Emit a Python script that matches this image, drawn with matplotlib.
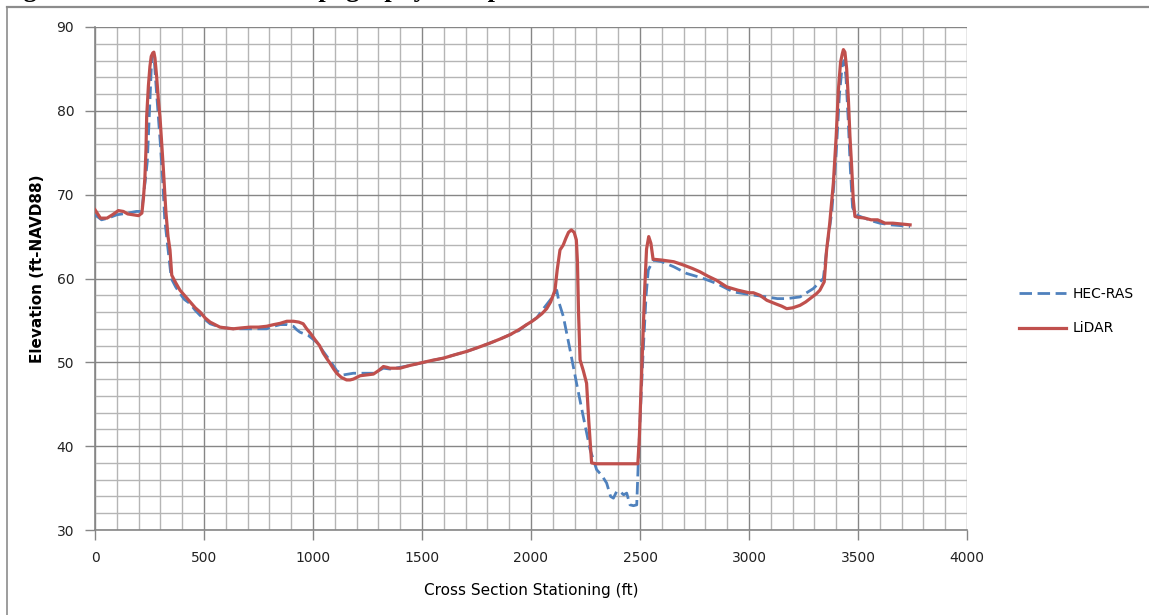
import matplotlib

matplotlib.use("Agg")

import matplotlib.pyplot as plt
from matplotlib.lines import Line2D
from matplotlib.ticker import MultipleLocator


TITLE = "Figure 4-1: Cross Section Topography Comparison"

X_LABEL = "Cross Section Stationing (ft)"
Y_LABEL = "Elevation (ft-NAVD88)"

# LiDAR ground profile (station ft, elevation ft)
LIDAR_STATION = [
    0, 25, 55, 80, 107, 130, 150, 175, 200, 215,
    222, 229, 234, 237, 245, 252, 258, 265, 270, 275,
    283, 290, 298, 305, 313, 325, 335, 344, 352, 370,
    390, 410, 436, 460, 482, 505, 528, 550, 573, 600,
    634, 670, 711, 750, 787, 820, 849, 880, 910, 935,
    955, 971, 990, 1009, 1030, 1047, 1062, 1078, 1095, 1109,
    1130, 1154, 1170, 1185, 1200, 1216, 1245, 1277, 1300, 1323,
    1340, 1353, 1375, 1399, 1440, 1491, 1540, 1598, 1650, 1705,
    1760, 1812, 1860, 1904, 1945, 1980, 2005, 2026, 2050, 2072,
    2090, 2110, 2120, 2133, 2148, 2160, 2172, 2185, 2198, 2208,
    2213, 2218, 2225, 2240, 2255, 2265, 2278, 2300, 2350, 2400,
    2450, 2490, 2497, 2505, 2515, 2522, 2530, 2540, 2550, 2560,
    2600, 2655, 2700, 2740, 2775, 2810, 2850, 2898, 2950, 3000,
    3020, 3050, 3082, 3120, 3150, 3173, 3200, 3234, 3260, 3290,
    3310, 3325, 3345, 3356, 3370, 3387, 3400, 3410, 3420, 3428,
    3433, 3440, 3448, 3456, 3463, 3471, 3478, 3486, 3500, 3532,
    3560, 3590, 3624, 3660, 3700, 3739,
]
LIDAR_ELEV = [
    68.2, 67.2, 67.2, 67.6, 68.1, 68.0, 67.7, 67.6, 67.5, 67.8,
    69.5, 72.1, 75.5, 79.3, 83.0, 85.3, 86.5, 86.9, 87.0, 86.3,
    84.0, 81.5, 79.3, 76.5, 73.3, 68.0, 65.0, 63.4, 60.4, 59.5,
    58.6, 58.0, 57.2, 56.5, 56.0, 55.3, 54.8, 54.5, 54.2, 54.1,
    54.0, 54.1, 54.2, 54.2, 54.3, 54.5, 54.65, 54.9, 54.9, 54.8,
    54.6, 54.0, 53.4, 52.7, 52.0, 51.1, 50.5, 49.9, 49.2, 48.7,
    48.2, 47.9, 47.9, 48.0, 48.2, 48.4, 48.5, 48.6, 49.0, 49.5,
    49.4, 49.3, 49.3, 49.3, 49.6, 49.9, 50.2, 50.5, 50.9, 51.3,
    51.8, 52.3, 52.8, 53.3, 53.9, 54.5, 54.9, 55.3, 55.8, 56.4,
    57.2, 58.6, 61.0, 63.4, 64.0, 64.8, 65.5, 65.8, 65.5, 64.6,
    62.0, 56.0, 50.3, 49.0, 47.5, 43.0, 38.0, 37.9, 37.9, 37.9,
    37.9, 37.9, 41.0, 47.0, 54.0, 59.0, 63.5, 65.0, 64.2, 62.3,
    62.2, 62.0, 61.6, 61.2, 60.8, 60.3, 59.8, 59.0, 58.6, 58.3,
    58.3, 58.0, 57.4, 57.0, 56.7, 56.4, 56.5, 56.8, 57.2, 57.8,
    58.2, 58.6, 59.6, 63.4, 66.5, 71.4, 77.0, 82.5, 85.8, 86.8,
    87.3, 87.0, 85.0, 81.3, 77.0, 73.3, 69.5, 67.4, 67.3, 67.2,
    67.0, 67.0, 66.6, 66.6, 66.5, 66.4,
]

# HEC-RAS cross section geometry
HECRAS_STATION = [
    0, 30, 60, 100, 150, 190, 215, 222, 230, 240,
    250, 258, 265, 272, 280, 290, 300, 310, 320, 335,
    350, 370, 390, 410, 436, 460, 482, 505, 528, 573,
    634, 711, 787, 820, 850, 880, 910, 925, 940, 979,
    1017, 1047, 1078, 1109, 1140, 1185, 1216, 1277, 1323, 1353,
    1399, 1440, 1491, 1540, 1598, 1650, 1705, 1760, 1812, 1860,
    1904, 1945, 1980, 2026, 2060, 2090, 2118, 2130, 2148, 2179,
    2209, 2240, 2271, 2301, 2325, 2347, 2365, 2378, 2393, 2408,
    2425, 2439, 2454, 2470, 2485, 2492, 2505, 2515, 2528, 2538,
    2561, 2600, 2655, 2714, 2780, 2852, 2928, 3000, 3082, 3130,
    3173, 3234, 3295, 3341, 3356, 3380, 3400, 3415, 3428, 3436,
    3445, 3455, 3465, 3475, 3485, 3500, 3530, 3560, 3600, 3650,
    3700, 3739,
]
HECRAS_ELEV = [
    67.6, 67.0, 67.2, 67.6, 67.8, 68.0, 68.0, 70.0, 71.5, 74.0,
    80.0, 85.0, 86.8, 86.0, 83.0, 79.5, 76.0, 72.0, 67.0, 63.5,
    60.0, 59.0, 58.2, 57.5, 57.0, 56.2, 55.6, 55.1, 54.6, 54.2,
    54.0, 54.0, 54.0, 54.3, 54.5, 54.5, 54.3, 53.9, 53.6, 53.2,
    52.4, 51.3, 50.2, 49.0, 48.5, 48.7, 48.7, 48.7, 49.3, 49.2,
    49.4, 49.6, 49.9, 50.2, 50.5, 50.9, 51.3, 51.8, 52.3, 52.8,
    53.3, 53.8, 54.5, 55.3, 56.5, 57.5, 58.6, 57.0, 55.5, 51.5,
    47.5, 43.5, 39.6, 37.2, 36.5, 35.6, 34.0, 33.8, 34.6, 34.6,
    34.2, 34.4, 33.0, 32.9, 33.0, 38.0, 46.0, 51.5, 58.0, 61.0,
    62.2, 62.0, 61.4, 60.6, 60.1, 59.4, 58.4, 58.1, 57.8, 57.6,
    57.6, 57.8, 58.8, 60.0, 63.4, 68.0, 75.0, 82.0, 85.5, 86.0,
    84.0, 79.0, 73.0, 68.5, 67.8, 67.5, 67.2, 66.9, 66.6, 66.4,
    66.3, 66.2,
]

X_TICKS = [0, 500, 1000, 1500, 2000, 2500, 3000, 3500, 4000]
Y_TICKS = [30, 40, 50, 60, 70, 80, 90]


def main():

    fig = plt.figure(figsize=(11.49, 6.15), dpi=100)
    fig.patch.set_facecolor("white")

    # report caption above the chart; only its descenders show in the page crop
    fig.text(
        0.0,
        1.0 + 3 / 615,
        TITLE,
        fontsize=19,
        fontweight="bold",
        family="Liberation Serif",
        va="baseline",
        ha="left",
    )

    # chart frame (top and left edges only are visible)
    frame_color = "#8c8c8c"
    fig.add_artist(
        Line2D([7 / 1149, 1.0], [1 - 7 / 615, 1 - 7 / 615],
               transform=fig.transFigure, color=frame_color, lw=1.6)
    )
    fig.add_artist(
        Line2D([7 / 1149, 7 / 1149], [1 - 7 / 615, 0.0],
               transform=fig.transFigure, color=frame_color, lw=1.2)
    )

    ax = fig.add_axes([95 / 1149, 1 - 530 / 615, 872 / 1149, 503 / 615])

    ax.plot(
        HECRAS_STATION,
        HECRAS_ELEV,
        color="#4f81bd",
        lw=2.0,
        dashes=(4.5, 2),
        label="HEC-RAS",
        zorder=3,
    )
    ax.plot(
        LIDAR_STATION,
        LIDAR_ELEV,
        color="#c0504d",
        lw=2.3,
        label="LiDAR",
        zorder=4,
    )

    ax.set_xlim(0, 4000)
    ax.set_ylim(30, 90)
    ax.set_xticks(X_TICKS)
    ax.set_yticks(Y_TICKS)
    ax.xaxis.set_minor_locator(MultipleLocator(100))
    ax.yaxis.set_minor_locator(MultipleLocator(2))

    ax.grid(which="major", color="#868686", lw=1.0)
    ax.grid(which="minor", color="#b5b5b5", lw=1.0)
    ax.set_axisbelow(True)

    for side in ["top", "right"]:
        ax.spines[side].set_visible(False)
    for side in ["left", "bottom"]:
        ax.spines[side].set_color("#868686")
        ax.spines[side].set_linewidth(1.2)

    ax.tick_params(which="major", length=7, width=1.0, color="#868686",
                   labelsize=10, labelcolor="#222222", pad=8)
    ax.tick_params(which="minor", length=0)

    ax.set_xlabel(X_LABEL, fontsize=11)
    ax.set_ylabel(Y_LABEL, fontsize=11, fontweight="bold")
    ax.xaxis.set_label_coords(0.5, -0.105)
    ax.yaxis.set_label_coords(-0.057, 0.52)

    fig.legend(
        loc="center left",
        bbox_to_anchor=(1006 / 1149, 1 - 311 / 615),
        frameon=False,
        fontsize=10,
        handlelength=3.4,
        handletextpad=0.5,
        labelspacing=1.5,
    )

    fig.savefig("out.png", dpi=100)
    plt.close(fig)


if __name__ == "__main__":
    main()
